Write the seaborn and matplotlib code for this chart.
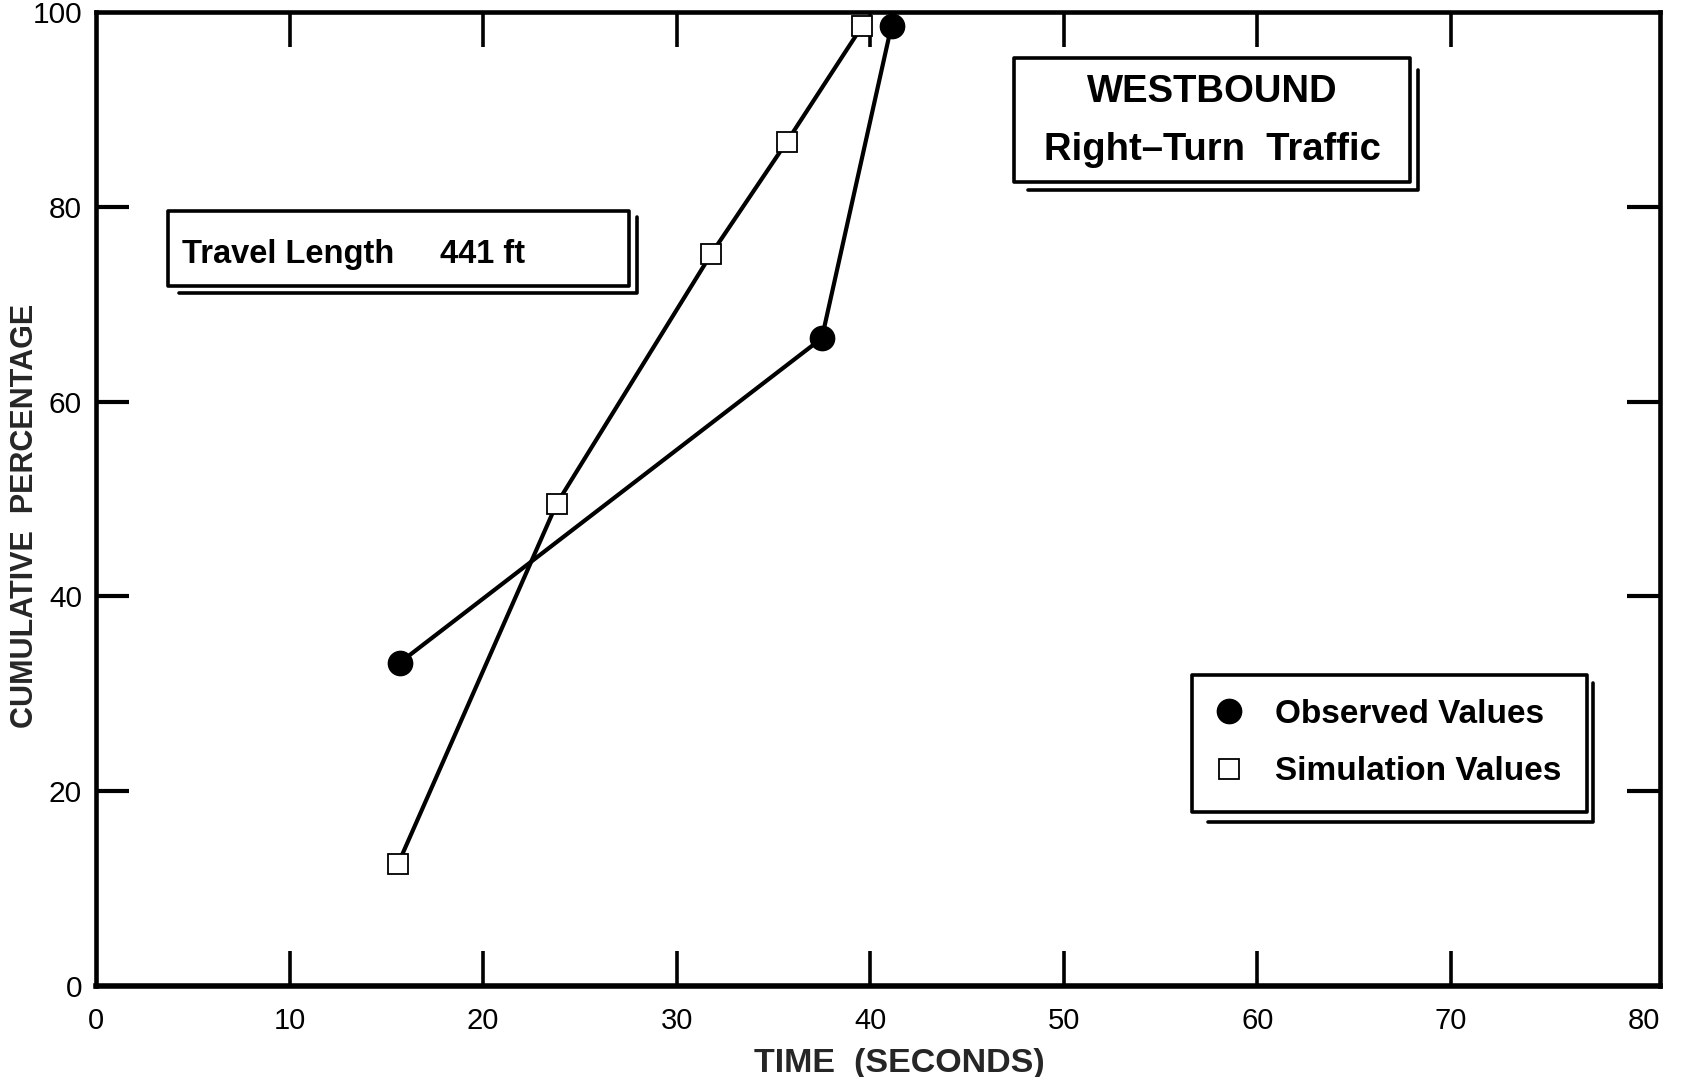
import matplotlib
matplotlib.use("Agg")
import matplotlib.pyplot as plt
from matplotlib.lines import Line2D
from matplotlib.patches import Rectangle
import pandas as pd
import seaborn as sns

# Cumulative share of westbound right-turn vehicles that completed the path by a given time
observed_time = [15.7, 37.5, 41.1]
observed_pct = [33.2, 66.5, 98.6]
simulated_time = [15.6, 23.8, 31.8, 35.7, 39.6]
simulated_pct = [12.5, 49.5, 75.2, 86.7, 98.6]

x_ticks = [0, 10, 20, 30, 40, 50, 60, 70, 80]
y_ticks = [0, 20, 40, 60, 80, 100]
series_labels = ["Observed Values", "Simulation Values"]
heading = ["WESTBOUND", "Right\u2013Turn  Traffic"]
path_note = ["Travel Length", "441 ft"]
x_title = "TIME  (SECONDS)"
y_title = "CUMULATIVE  PERCENTAGE"

sns.set_theme(style="white")
plt.rcParams["font.family"] = ["Liberation Sans", "DejaVu Sans"]
plt.rcParams["axes.edgecolor"] = "black"
plt.rcParams["text.color"] = "black"
plt.rcParams["xtick.color"] = "black"
plt.rcParams["ytick.color"] = "black"

INK = "black"
fig = plt.figure(figsize=(16.9, 10.77), dpi=100)
fig.patch.set_facecolor("white")
ax = fig.add_axes([0.0568, 0.0845, 0.9254, 0.9044])
ax.set_facecolor("white")

obs = pd.DataFrame({"time": observed_time, "pct": observed_pct})
sim = pd.DataFrame({"time": simulated_time, "pct": simulated_pct})

circle_style = dict(marker="o", markersize=17.5, markerfacecolor=INK,
                    markeredgecolor=INK, markeredgewidth=1.0)
square_style = dict(marker="s", markersize=14.5, markerfacecolor="white",
                    markeredgecolor=INK, markeredgewidth=1.3)

sns.lineplot(data=obs, x="time", y="pct", color=INK, linewidth=3.0,
             clip_on=False, zorder=4, ax=ax, **circle_style)
sns.lineplot(data=sim, x="time", y="pct", color=INK, linewidth=3.0,
             clip_on=False, zorder=4, ax=ax, **square_style)

ax.set_xlim(0, 80.8)
ax.set_ylim(0, 100)

for side in ["left", "right", "top", "bottom"]:
    ax.spines[side].set_visible(True)
    ax.spines[side].set_color(INK)
    ax.spines[side].set_linewidth(3.3)
ax.spines["bottom"].set_linewidth(4.0)

# labelled values on major ticks, inward marks on minor ticks (interior values only)
ax.xaxis.remove_overlapping_locs = False
ax.yaxis.remove_overlapping_locs = False
ax.set_xticks(x_ticks)
ax.set_xticklabels([str(v) for v in x_ticks], fontsize=21,
                   family=["Liberation Sans Narrow", "Liberation Sans"])
ax.set_xticks(x_ticks[1:-1], minor=True)
ax.set_yticks(y_ticks)
ax.set_yticklabels([str(v) for v in y_ticks], fontsize=21.5)
ax.set_yticks(y_ticks[1:-1], minor=True)

ax.tick_params(axis="x", which="major", length=0, pad=15, bottom=True, top=False)
ax.tick_params(axis="y", which="major", length=0, pad=10, left=True, right=False)
ax.tick_params(axis="x", which="minor", direction="in", length=25, width=2.6,
               bottom=True, top=True, color=INK)
ax.tick_params(axis="y", which="minor", direction="in", length=24, width=3.0,
               left=True, right=True, color=INK)
ax.grid(False)

ax.set_xlabel(x_title, fontsize=24.5, fontweight="bold")
ax.xaxis.set_label_coords(0.5134, -0.0640)
ax.set_ylabel(y_title, fontsize=22, fontweight="bold")
ax.yaxis.set_label_coords(-0.0358, 0.4825)


def framed_box(left, bottom, right, top, shadow):
    """Outlined box with an offset drop line along its right and lower edges."""
    ax.add_patch(Rectangle((left, bottom), right - left, top - bottom,
                           transform=ax.transAxes, facecolor="white",
                           edgecolor=INK, linewidth=2.6, joinstyle="round",
                           clip_on=False, zorder=5))
    sx0, sb, sr, st = shadow
    ax.add_line(Line2D([sx0, sr, sr], [sb, sb, st], transform=ax.transAxes,
                       color=INK, linewidth=2.6, solid_joinstyle="round",
                       solid_capstyle="round", clip_on=False, zorder=5))


# travel length note
framed_box(0.0460, 0.7187, 0.3408, 0.7957, (0.0531, 0.7115, 0.3459, 0.7895))
ax.text(0.0550, 0.7423, path_note[0], transform=ax.transAxes, fontsize=23.5,
        fontweight="bold", ha="left", va="baseline", zorder=6)
ax.text(0.2199, 0.7423, path_note[1], transform=ax.transAxes, fontsize=23.5,
        fontweight="bold", ha="left", va="baseline", zorder=6)

# direction / movement heading
framed_box(0.5870, 0.8255, 0.8402, 0.9528, (0.5959, 0.8172, 0.8453, 0.9405))
ax.text(0.7136, 0.9076, heading[0], transform=ax.transAxes, fontsize=27.5,
        fontweight="bold", ha="center", va="baseline", zorder=6)
ax.text(0.7136, 0.8480, heading[1], transform=ax.transAxes, fontsize=27.5,
        fontweight="bold", ha="center", va="baseline", zorder=6)

# legend
framed_box(0.7008, 0.1786, 0.9533, 0.3193, (0.7110, 0.1684, 0.9572, 0.3111))
handles = [Line2D([], [], linestyle="none", **circle_style),
           Line2D([], [], linestyle="none", **square_style)]
leg = ax.legend(handles, series_labels, loc="upper left",
                bbox_to_anchor=(0.7136, 0.2950), frameon=False, borderpad=0,
                borderaxespad=0, handlelength=1.0, handletextpad=0.9,
                labelspacing=0.8, prop={"weight": "bold", "size": 24})
leg.set_zorder(7)

fig.savefig("out.png", dpi=100, facecolor="white")
